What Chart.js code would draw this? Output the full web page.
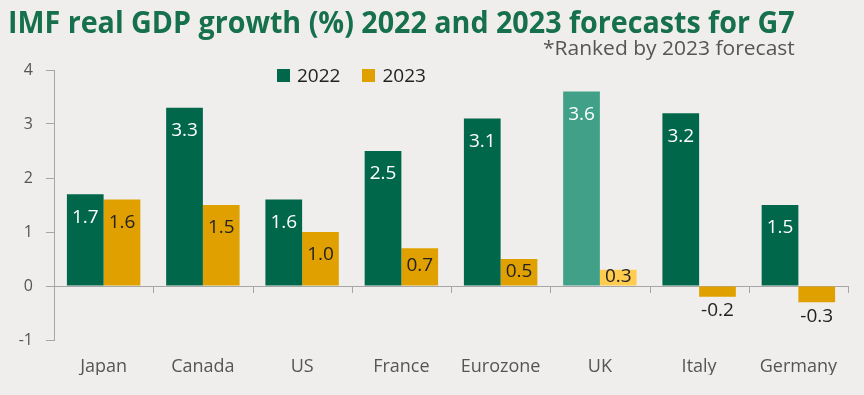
<!DOCTYPE html>
<html>
<head>
<meta charset="utf-8">
<script src="https://cdn.jsdelivr.net/npm/chart.js@4.4.1/dist/chart.umd.min.js"></script>
<style>
    body { margin: 0; background: #efeeec; }
    .wrap { position: relative; width: 864px; height: 395px; background: #efeeec; overflow: hidden; }
    #chartTitle { position: absolute; left: 8px; top: 1px; font-family: 'Open Sans', sans-serif; font-weight: bold; font-size: 30px; color: #17704d; white-space: nowrap; transform-origin: 0 0; transform: scaleX(0.955); }
    #chartSub { position: absolute; right: 69px; top: 34px; font-family: 'Open Sans', sans-serif; font-size: 20px; color: #555; white-space: nowrap; transform-origin: 100% 0; transform: scaleX(1.05); }
    #legend { position: absolute; left: 277px; top: 62px; font-family: 'Open Sans', sans-serif; font-size: 19px; color: #222; display: flex; align-items: center; }
    #legend span.item { display: flex; align-items: center; margin-right: 22px; }
    #legend span.box { width: 13px; height: 13px; margin-right: 7px; display: inline-block; }
</style>
</head>
<body>
<div class="wrap">
    <canvas id="gdpChart" width="864" height="395"></canvas>
    <div id="chartTitle">IMF real GDP growth (%) 2022 and 2023 forecasts for G7</div>
    <div id="chartSub">*Ranked by 2023 forecast</div>
    <div id="legend"></div>
</div>
<script>
const countries = ['Japan', 'Canada', 'US', 'France', 'Eurozone', 'UK', 'Italy', 'Germany'];
const growth2022 = [1.7, 3.3, 1.6, 2.5, 3.1, 3.6, 3.2, 1.5];
const growth2023 = [1.6, 1.5, 1.0, 0.7, 0.5, 0.3, -0.2, -0.3];
const yTicks = [-1, 0, 1, 2, 3, 4];

const green = '#00674a';
const greenUK = '#40a088';
const yellow = '#e0a100';
const yellowUK = '#ffcc50';
const axisGrey = '#a6a6a6';

const colors2022 = countries.map(c => c === 'UK' ? greenUK : green);
const colors2023 = countries.map(c => c === 'UK' ? yellowUK : yellow);

// labels inside bar ends, negatives below
const barLabels = {
    id: 'barLabels',
    afterDatasetsDraw(chart) {
        const ctx = chart.ctx;
        ctx.save();
        ctx.font = '19px "Open Sans", sans-serif';
        ctx.textAlign = 'center';
        ctx.textBaseline = 'middle';
        chart.data.datasets.forEach((ds, di) => {
            const meta = chart.getDatasetMeta(di);
            meta.data.forEach((bar, i) => {
                const v = ds.data[i];
                let y;
                if (v >= 0) {
                    y = Math.min(bar.y + 23, (bar.y + bar.base) / 2 - 1);
                    ctx.fillStyle = di === 0 ? '#ffffff' : '#222222';
                } else {
                    y = bar.y + 14;
                    ctx.fillStyle = '#222222';
                }
                ctx.fillText(v.toFixed(1), bar.x, y);
            });
        });
        ctx.restore();
    }
};

// small category ticks on the zero line
const zeroTicks = {
    id: 'zeroTicks',
    afterDraw(chart) {
        const x = chart.scales.x, y = chart.scales.y;
        const y0 = y.getPixelForValue(0);
        const w = x.width / countries.length;
        const ctx = chart.ctx;
        ctx.save();
        ctx.strokeStyle = axisGrey;
        ctx.lineWidth = 1;
        for (let i = 1; i <= countries.length; i++) {
            const px = Math.round(x.getPixelForValue(i - 1) + w / 2) + 0.5;
            ctx.beginPath();
            ctx.moveTo(px, y0);
            ctx.lineTo(px, y0 + 7);
            ctx.stroke();
        }
        ctx.restore();
    }
};

const chart = new Chart(document.getElementById('gdpChart'), {
    type: 'bar',
    data: {
        labels: countries,
        datasets: [
            { label: '2022', data: growth2022, backgroundColor: colors2022, legendColor: green },
            { label: '2023', data: growth2023, backgroundColor: colors2023, legendColor: yellow }
        ]
    },
    options: {
        responsive: false,
        animation: false,
        layout: { padding: { top: 70, right: 16, bottom: 20, left: 8 } },
        datasets: { bar: { categoryPercentage: 0.74, barPercentage: 1.0 } },
        plugins: {
            legend: { display: false },
            tooltip: { enabled: false }
        },
        scales: {
            x: {
                grid: { display: false, drawTicks: false },
                border: { display: false },
                ticks: { color: '#555', font: { family: 'Open Sans', size: 18 }, padding: 16, maxRotation: 0 },
                afterFit: s => { s.height = 35; }
            },
            y: {
                min: -1, max: 4,
                afterBuildTicks: s => { s.ticks = yTicks.map(v => ({ value: v })); },
                grid: {
                    color: c => c.tick && c.tick.value === 0 ? axisGrey : 'rgba(0,0,0,0)',
                    tickColor: axisGrey,
                    tickLength: 8,
                    lineWidth: 1
                },
                border: { color: axisGrey },
                ticks: { color: '#555', font: { family: 'Open Sans', size: 16 }, padding: 13 },
                afterFit: s => { s.width = 46; }
            }
        }
    },
    plugins: [barLabels, zeroTicks]
});

document.getElementById('legend').innerHTML = chart.data.datasets.map(ds =>
    `<span class="item"><span class="box" style="background:${ds.legendColor}"></span>${ds.label}</span>`
).join('');
</script>
</body>
</html>
